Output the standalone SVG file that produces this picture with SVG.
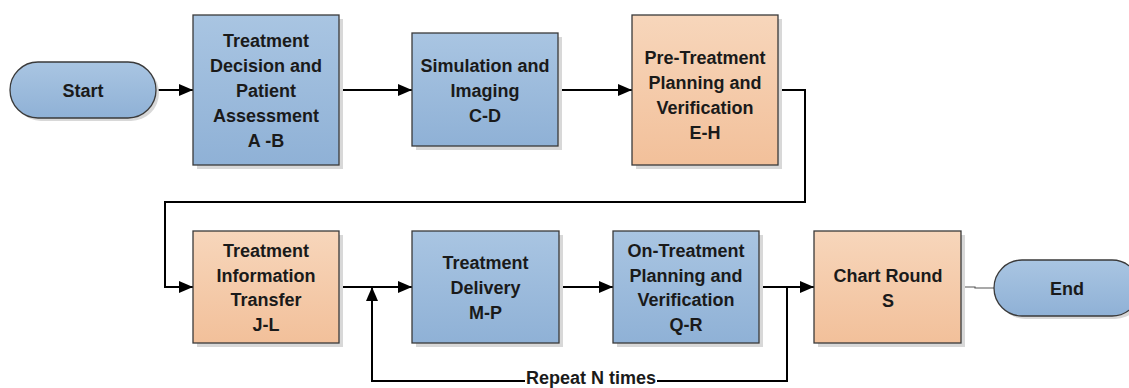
<svg xmlns="http://www.w3.org/2000/svg" width="1129" height="388" viewBox="0 0 1129 388">
<defs>
<linearGradient id="gBlue" x1="0" y1="0" x2="0" y2="1">
<stop offset="0" stop-color="#a9c5e2"/>
<stop offset="1" stop-color="#8fb1d6"/>
</linearGradient>
<linearGradient id="gOrange" x1="0" y1="0" x2="0" y2="1">
<stop offset="0" stop-color="#f7d6bb"/>
<stop offset="1" stop-color="#f2c09a"/>
</linearGradient>
<marker id="arr" viewBox="0 0 14 12" refX="14" refY="6" markerWidth="14" markerHeight="12" markerUnits="userSpaceOnUse" orient="auto">
<path d="M0,0 L14,6 L0,12 z" fill="#000"/>
</marker>
</defs>
<style>
.shadow{fill:#d8d8d8}
.blue{fill:url(#gBlue);stroke:#3a3a3a;stroke-width:1.3}
.orange{fill:url(#gOrange);stroke:#3a3a3a;stroke-width:1.3}
text{font-family:"Liberation Sans",Arial,sans-serif;font-weight:bold;font-size:18px;fill:#1a1a1a;text-anchor:middle}
.conn{fill:none;stroke:#000;stroke-width:2}
.thin{fill:none;stroke:#555;stroke-width:1.2}
</style>
<rect width="1129" height="388" fill="#fff"/>

<g id="connectors">
<path class="conn" d="M156,90 H193" marker-end="url(#arr)"/>
<path class="conn" d="M339,90 H412" marker-end="url(#arr)"/>
<path class="conn" d="M558,90 H632" marker-end="url(#arr)"/>
<path class="conn" d="M778,90 H805 V202 H165 V287 H193" marker-end="url(#arr)"/>
<path class="conn" d="M339,287 H412" marker-end="url(#arr)"/>
<path class="conn" d="M559,287 H613" marker-end="url(#arr)"/>
<path class="conn" d="M759,287 H814" marker-end="url(#arr)"/>
<path class="conn" d="M787,287 V381 H657"/>
<path class="conn" d="M525,381 H372 V287" marker-end="url(#arr)"/>
<path class="thin" d="M961,287 H975 V288 H994"/>
<text x="591" y="384">Repeat N times</text>
</g>

<g id="start">
<rect class="shadow" x="13" y="65" width="146" height="56" rx="28"/>
<rect class="blue" x="10" y="62" width="146" height="56" rx="28"/>
<text x="83" y="96.5">Start</text>
</g>

<g id="treatment-decision">
<rect class="shadow" x="197" y="19" width="146" height="150"/>
<rect class="blue" x="193" y="15" width="146" height="150"/>
<text x="266" y="46.5">Treatment</text>
<text x="266" y="71.5">Decision and</text>
<text x="266" y="96.5">Patient</text>
<text x="266" y="121.5">Assessment</text>
<text x="266" y="146.5">A -B</text>
</g>

<g id="simulation">
<rect class="shadow" x="416" y="37" width="146" height="113"/>
<rect class="blue" x="412" y="33" width="146" height="113"/>
<text x="485" y="71.5">Simulation and</text>
<text x="485" y="96.5">Imaging</text>
<text x="485" y="121.5">C-D</text>
</g>

<g id="pre-treatment">
<rect class="shadow" x="636" y="19" width="146" height="150"/>
<rect class="orange" x="632" y="15" width="146" height="150"/>
<text x="705" y="63.5">Pre-Treatment</text>
<text x="705" y="88.5">Planning and</text>
<text x="705" y="113.5">Verification</text>
<text x="705" y="138.5">E-H</text>
</g>

<g id="info-transfer">
<rect class="shadow" x="197" y="235" width="146" height="112"/>
<rect class="orange" x="193" y="231" width="146" height="112"/>
<text x="266" y="256.5">Treatment</text>
<text x="266" y="281.5">Information</text>
<text x="266" y="305.5">Transfer</text>
<text x="266" y="330.5">J-L</text>
</g>

<g id="delivery">
<rect class="shadow" x="416" y="235" width="147" height="112"/>
<rect class="blue" x="412" y="231" width="147" height="112"/>
<text x="485.5" y="268.5">Treatment</text>
<text x="485.5" y="293.5">Delivery</text>
<text x="485.5" y="318.5">M-P</text>
</g>

<g id="on-treatment">
<rect class="shadow" x="617" y="235" width="146" height="112"/>
<rect class="blue" x="613" y="231" width="146" height="112"/>
<text x="686" y="256.5">On-Treatment</text>
<text x="686" y="281.5">Planning and</text>
<text x="686" y="305.5">Verification</text>
<text x="686" y="330.5">Q-R</text>
</g>

<g id="chart-round">
<rect class="shadow" x="818" y="235" width="147" height="112"/>
<rect class="orange" x="814" y="231" width="147" height="112"/>
<text x="888" y="281.5">Chart Round</text>
<text x="888" y="306.5">S</text>
</g>

<g id="end">
<rect class="shadow" x="997" y="263" width="146" height="56" rx="28"/>
<rect class="blue" x="994" y="260" width="146" height="56" rx="28"/>
<text x="1067" y="294.5">End</text>
</g>
</svg>
